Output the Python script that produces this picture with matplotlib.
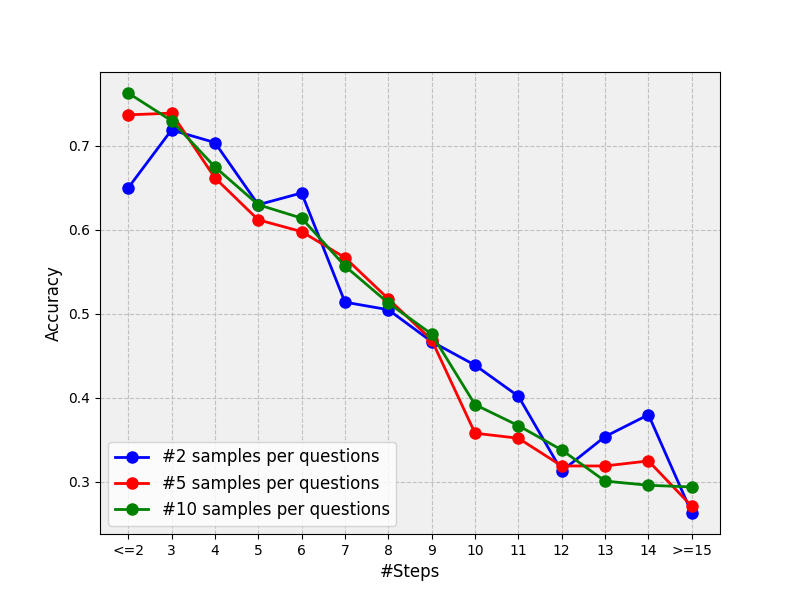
import numpy as np
import matplotlib
matplotlib.use("Agg")
import matplotlib.pyplot as plt

steps = ['<=2', '3', '4', '5', '6', '7', '8', '9', '10', '11', '12', '13', '14', '>=15']
acc_2 = [0.650, 0.719, 0.704, 0.630, 0.644, 0.514, 0.505, 0.467, 0.439, 0.402, 0.313, 0.354, 0.380, 0.263]
acc_5 = [0.737, 0.739, 0.662, 0.612, 0.598, 0.567, 0.518, 0.469, 0.358, 0.352, 0.319, 0.319, 0.325, 0.271]
acc_10 = [0.763, 0.730, 0.675, 0.630, 0.614, 0.557, 0.513, 0.476, 0.392, 0.367, 0.338, 0.301, 0.296, 0.294]

fig, ax = plt.subplots(figsize=(8, 6), dpi=100)
ax.set_facecolor('#f0f0f0')
x = np.arange(len(steps))

ax.plot(x, acc_2, 'o-', color='blue', lw=2, ms=8, label='#2 samples per questions')
ax.plot(x, acc_5, 'o-', color='red', lw=2, ms=8, label='#5 samples per questions')
ax.plot(x, acc_10, 'o-', color='green', lw=2, ms=8, label='#10 samples per questions')

ax.set_xticks(x)
ax.set_xticklabels(steps)
ax.set_yticks([0.3, 0.4, 0.5, 0.6, 0.7])
ax.grid(True, linestyle='--', color='#bbbbbb', alpha=0.9)
ax.set_axisbelow(True)
ax.set_xlabel('#Steps', fontsize=12)
ax.set_ylabel('Accuracy', fontsize=12)
ax.legend(loc='lower left', fontsize=12)

fig.savefig('out.png')
